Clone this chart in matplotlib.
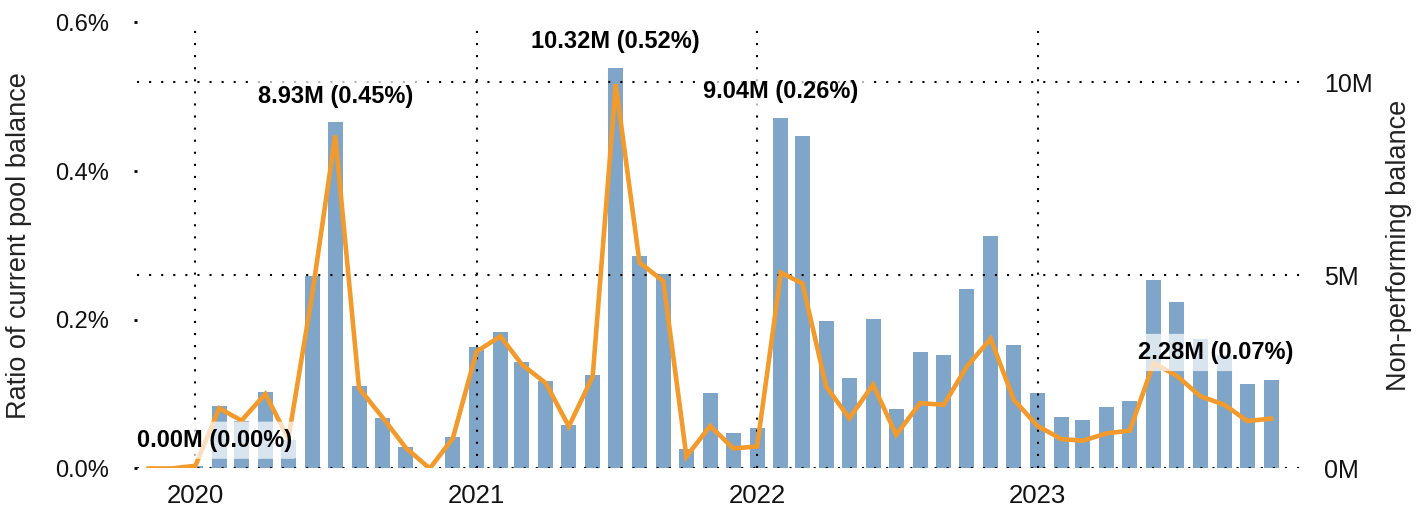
import matplotlib
matplotlib.use('Agg')
import matplotlib.pyplot as plt
import matplotlib.ticker as mticker
import matplotlib.dates as mdates
import pandas as pd

plt.rcParams['font.family'] = ['Liberation Sans', 'DejaVu Sans']

# monthly ratio of current pool balance (%), Jan 2020 - Nov 2023
bar_months = pd.date_range('2020-01-01', '2023-11-01', freq='MS')
ratio_pct = [0.003, 0.084, 0.064, 0.103, 0.038, 0.259, 0.466, 0.111, 0.068, 0.029, 0.0, 0.042,
             0.164, 0.184, 0.143, 0.118, 0.059, 0.126, 0.538, 0.286, 0.261, 0.026, 0.102, 0.048,
             0.054, 0.471, 0.447, 0.199, 0.122, 0.201, 0.080, 0.156, 0.153, 0.242, 0.313, 0.166,
             0.102, 0.069, 0.065, 0.083, 0.091, 0.254, 0.224, 0.174, 0.153, 0.114, 0.119]

# non-performing balance (millions), Nov 2019 - Nov 2023
line_months = pd.date_range('2019-11-01', '2023-11-01', freq='MS')
npl_m = [0.0, 0.0,
         0.07, 1.56, 1.24, 1.93, 0.77, 4.5, 8.62, 2.08, 1.31, 0.53, 0.0, 0.78,
         3.03, 3.42, 2.69, 2.21, 1.09, 2.38, 9.95, 5.33, 4.85, 0.31, 1.10, 0.52,
         0.57, 5.07, 4.79, 2.12, 1.30, 2.17, 0.87, 1.69, 1.65, 2.64, 3.36, 1.78,
         1.10, 0.76, 0.72, 0.91, 0.98, 2.73, 2.40, 1.87, 1.65, 1.23, 1.29]

# annotations
label_texts = ['0.00M (0.00%)', '8.93M (0.45%)', '10.32M (0.52%)', '9.04M (0.26%)', '2.28M (0.07%)']
label_dates = ['2020-01-26', '2020-07-01', '2021-07-01', '2022-02-01', '2023-08-21']
label_pct = [0.038, 0.500, 0.574, 0.507, 0.156]

bar_color = '#7fa6c9'
line_color = '#f39a2c'
text_color = '#111111'
dotted = (0, (1, 4.8))

fig = plt.figure(figsize=(14.27, 5.05), dpi=100)
ax = fig.add_axes([0.096, 0.0723, 0.8185, 0.8835])
ax2 = ax.twinx()

ax.bar(bar_months, ratio_pct, width=19.5, color=bar_color, zorder=1)
ax2.plot(line_months, npl_m, color=line_color, lw=3.3, solid_joinstyle='miter', zorder=3)

ax.set_xlim(pd.Timestamp('2019-10-17'), pd.Timestamp('2023-12-15'))
ax.set_ylim(0, 0.6)
ax2.set_ylim(0, 11.55)

ax.set_yticks([0, 0.2, 0.4, 0.6])
ax.yaxis.set_major_formatter(mticker.FuncFormatter(lambda v, p: f'{v:.1f}%'))
ax2.set_yticks([0, 5, 10])
ax2.yaxis.set_major_formatter(mticker.FuncFormatter(lambda v, p: f'{v:.0f}M'))

ax.xaxis.set_major_locator(mdates.YearLocator())
ax.xaxis.set_major_formatter(mdates.DateFormatter('%Y'))

ax.grid(axis='x', color='black', linestyle=dotted, lw=1.5)
ax2.grid(axis='y', color='black', linestyle=dotted, lw=1.5)

for a in (ax, ax2):
    for s in a.spines.values():
        s.set_visible(False)

ax.tick_params(axis='x', length=0, pad=11, labelsize=18.5, labelcolor=text_color)
ax.tick_params(axis='y', length=2, width=2, pad=18, labelsize=17, labelcolor=text_color)
ax2.tick_params(axis='y', length=0, pad=14, labelsize=18, labelcolor=text_color)

ax.set_ylabel('Ratio of current pool balance', fontsize=19.5, color='#222222', labelpad=17)
ax2.set_ylabel('Non-performing balance', fontsize=19.5, color='#222222', labelpad=9)

for txt, d, yv in zip(label_texts, label_dates, label_pct):
    ax2.text(pd.Timestamp(d), yv, txt, transform=ax.transData, ha='center', va='center',
             fontsize=17, fontweight='bold', color='black', zorder=5,
             bbox=dict(boxstyle='round,pad=0.3', fc='white', ec='none', alpha=0.7))

fig.savefig('out.png', dpi=100)
